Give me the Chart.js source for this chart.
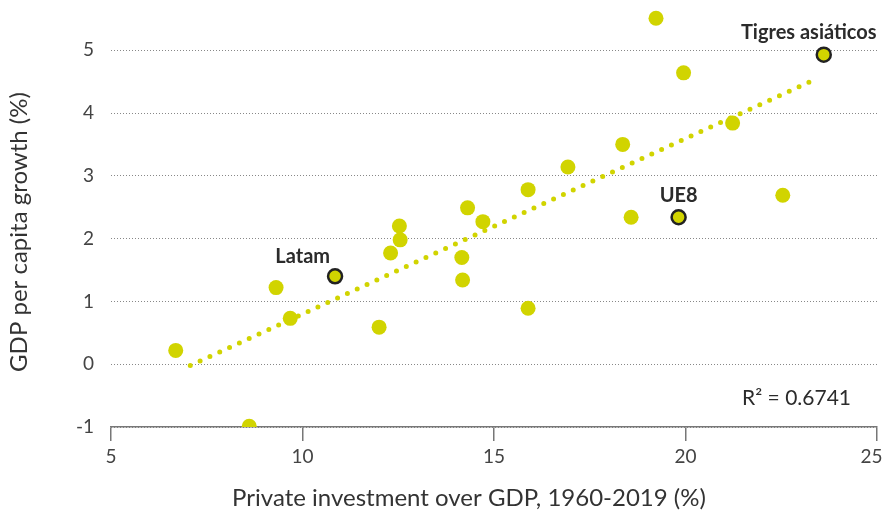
<!DOCTYPE html>
<html>
<head>
<meta charset="utf-8">
<script src="https://cdn.jsdelivr.net/npm/chart.js@4.4.1/dist/chart.umd.min.js"></script>
<style>
  html, body { margin: 0; padding: 0; background: #fff; }
</style>
</head>
<body>
<canvas id="scatterChart" width="883" height="517"></canvas>
<script>
// Countries: private investment (% GDP) vs GDP per capita growth (%)
var investment = [6.69, 8.61, 9.31, 9.68, 12.00, 12.30, 12.53, 12.55, 14.16, 14.18, 14.31,
                  14.71, 15.89, 15.89, 16.93, 18.36, 18.58, 19.23, 19.95, 21.23, 22.54];
var growth = [0.22, -0.99, 1.22, 0.73, 0.59, 1.77, 2.20, 1.98, 1.70, 1.34, 2.49,
              2.27, 2.78, 0.89, 3.14, 3.50, 2.34, 5.51, 4.64, 3.84, 2.69];

// Highlighted groups
var groupNames = ['Latam', 'UE8', 'Tigres asiáticos'];
var groupInvestment = [10.85, 19.82, 23.61];
var groupGrowth = [1.40, 2.34, 4.93];

// Trend line end points
var trendX = [7.07, 23.43];
var trendY = [-0.02, 4.55];
var r2Label = 'R² = 0.6741';

var xTicks = [5, 10, 15, 20, 25];
var yTicks = [-1, 0, 1, 2, 3, 4, 5];

var xTitle = 'Private investment over GDP, 1960-2019 (%)';
var yTitle = 'GDP per capita growth (%)';

var lime = '#d1d400';

function toPoints(xs, ys) {
    var pts = [];
    for (var i = 0; i < xs.length; i++) {
        pts.push({ x: xs[i], y: ys[i] });
    }
    return pts;
}

// Labels, R² text and axis titles
var annotations = {
    id: 'annotations',
    afterDatasetsDraw: function (chart) {
        var ctx = chart.ctx;
        var area = chart.chartArea;
        var meta = chart.getDatasetMeta(1);
        // label offsets [dx, dy, align]
        var offs = [[-5, -20, 'right'], [0, -22, 'center'], [-15, -22, 'center']];
        ctx.save();
        ctx.fillStyle = '#2b2b2b';
        ctx.font = 'bold 20px Lato';
        ctx.textBaseline = 'middle';
        for (var i = 0; i < meta.data.length; i++) {
            var p = meta.data[i];
            ctx.textAlign = offs[i][2];
            ctx.fillText(groupNames[i], p.x + offs[i][0], p.y + offs[i][1]);
        }
        ctx.font = '21px Lato';
        ctx.textAlign = 'right';
        ctx.fillText(r2Label, area.right - 26, area.bottom - 29);

        ctx.fillStyle = '#333';
        ctx.font = '24px Lato';
        ctx.textAlign = 'center';
        ctx.fillText(xTitle, 469, 498);
        ctx.translate(19, 232);
        ctx.rotate(-Math.PI / 2);
        ctx.fillText(yTitle, 0, 0);
        ctx.restore();
    }
};

const ctx = document.getElementById('scatterChart').getContext('2d');
const myChart = new Chart(ctx, {
    type: 'scatter',
    data: {
        datasets: [{
            data: toPoints(investment, growth),
            backgroundColor: lime,
            borderWidth: 0,
            pointRadius: 7.5,
            order: 1
        }, {
            data: toPoints(groupInvestment, groupGrowth),
            backgroundColor: lime,
            borderColor: '#222',
            borderWidth: 2.5,
            pointRadius: 7,
            order: 0
        }, {
            type: 'line',
            data: toPoints(trendX, trendY),
            borderColor: lime,
            borderWidth: 5,
            borderDash: [0, 10.8],
            borderCapStyle: 'round',
            pointRadius: 0,
            fill: false,
            order: 2
        }]
    },
    options: {
        responsive: false,
        animation: false,
        events: [],
        layout: { autoPadding: false, padding: { top: 0, right: 6, left: 0, bottom: 0 } },
        plugins: {
            legend: { display: false },
            tooltip: { enabled: false }
        },
        scales: {
            x: {
                type: 'linear',
                min: 5,
                max: 25,
                afterFit: function (scale) {
                    scale.height = 90;
                    scale.paddingLeft = 0;
                    scale.paddingRight = 0;
                },
                afterBuildTicks: function (scale) {
                    scale.ticks = xTicks.map(function (v) { return { value: v }; });
                },
                grid: {
                    drawOnChartArea: false,
                    drawTicks: true,
                    tickLength: 14,
                    color: '#777',
                    lineWidth: 1.5
                },
                border: { display: true, color: '#777', width: 1.5 },
                ticks: {
                    padding: 4,
                    color: '#444',
                    font: { family: 'Lato', size: 19 },
                    // keep the last label inside the canvas
                    callback: function (value) {
                        return value === 25 ? '25\u2007' : String(value);
                    }
                }
            },
            y: {
                type: 'linear',
                min: -1,
                max: 5.8,
                afterFit: function (scale) {
                    scale.width = 111;
                    scale.paddingTop = 0;
                    scale.paddingBottom = 0;
                },
                afterBuildTicks: function (scale) {
                    scale.ticks = yTicks.map(function (v) { return { value: v }; });
                },
                grid: {
                    drawTicks: false,
                    color: '#888',
                    lineWidth: 1
                },
                border: { display: false, dash: [1, 2] },
                ticks: {
                    padding: 17,
                    color: '#444',
                    font: { family: 'Lato', size: 19 }
                }
            }
        }
    },
    plugins: [annotations]
});
</script>
</body>
</html>
